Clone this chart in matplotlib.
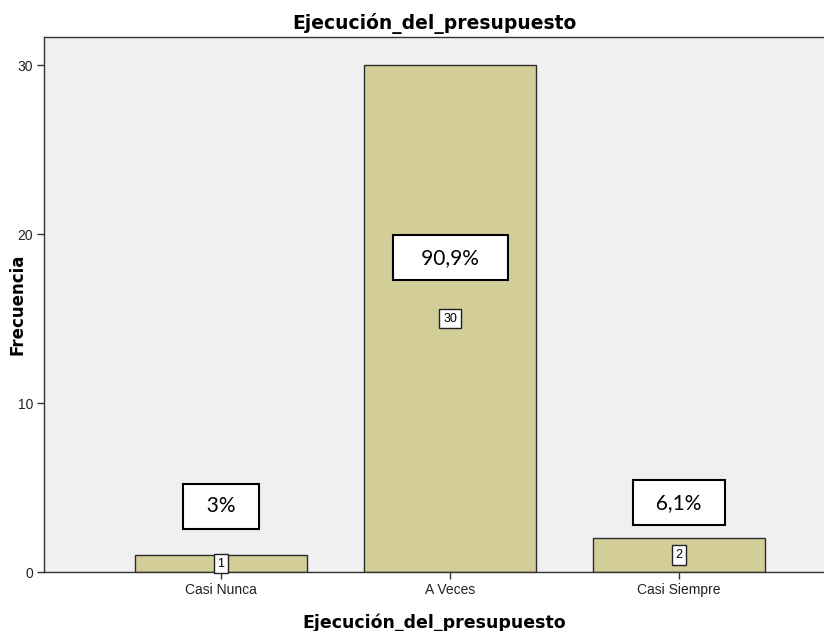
import matplotlib
matplotlib.use("Agg")
import matplotlib.pyplot as plt

categories = ["Casi Nunca", "A Veces", "Casi Siempre"]
counts = [1, 30, 2]
pct_labels = ["3%", "90,9%", "6,1%"]
title = "Ejecución_del_presupuesto"

# where the percentage boxes sit (data units, y)
pct_y = [3.9, 18.6, 4.1]

fig = plt.figure(figsize=(8.24, 6.31), dpi=100)
ax = fig.add_axes([44 / 824, 1 - 572 / 631, 1 - 44 / 824, (572 - 37) / 631])
ax.set_facecolor("#f0f0f0")

x = list(range(len(categories)))
ax.bar(x, counts, width=0.75, color="#d3ce97", edgecolor="#2b2b2b", linewidth=1.0, zorder=2)

ax.set_xlim(-0.773, 2.633)
ax.set_ylim(0, 31.66)
ax.set_yticks([0, 10, 20, 30])
ax.set_xticks(x)
ax.set_xticklabels(categories)

for side in ("left", "top", "bottom"):
    ax.spines[side].set_color("#333333")
    ax.spines[side].set_linewidth(1.0)
ax.spines["right"].set_visible(False)

ax.tick_params(axis="both", direction="out", length=5, width=1, color="#333333",
               labelsize=10, labelcolor="#222222", pad=3)
for lab in ax.get_xticklabels() + ax.get_yticklabels():
    lab.set_family(["Liberation Sans Narrow", "Liberation Sans", "DejaVu Sans"])

bold = ["DejaVu Sans"]
ax.set_title(title, fontsize=13.5, fontweight="bold", family=bold, pad=6)
ax.set_xlabel(title, fontsize=12.5, fontweight="bold", family=bold, labelpad=12)
ax.set_ylabel("Frecuencia", fontsize=12, fontweight="bold", family=bold)
ax.yaxis.set_label_coords((18 - 44) / 780, 0.5)
ax.yaxis.label.set_va("center")

for xi, c, p, py in zip(x, counts, pct_labels, pct_y):
    ax.text(xi, c / 2, str(c), ha="center", va="center", fontsize=9,
            family=["Liberation Sans Narrow", "Liberation Sans", "DejaVu Sans"], zorder=4,
            bbox=dict(boxstyle="square,pad=0.3", facecolor="white", edgecolor="#222222", linewidth=1))
    pad = "   " if len(p) > 4 else "  "
    ax.text(xi, py, f"{pad}{p}{pad}", ha="center", va="center", fontsize=15,
            family=["Lato", "DejaVu Sans"], zorder=4,
            bbox=dict(boxstyle="square,pad=0.6", facecolor="white", edgecolor="black", linewidth=1.5))

fig.savefig("out.png", dpi=100)
